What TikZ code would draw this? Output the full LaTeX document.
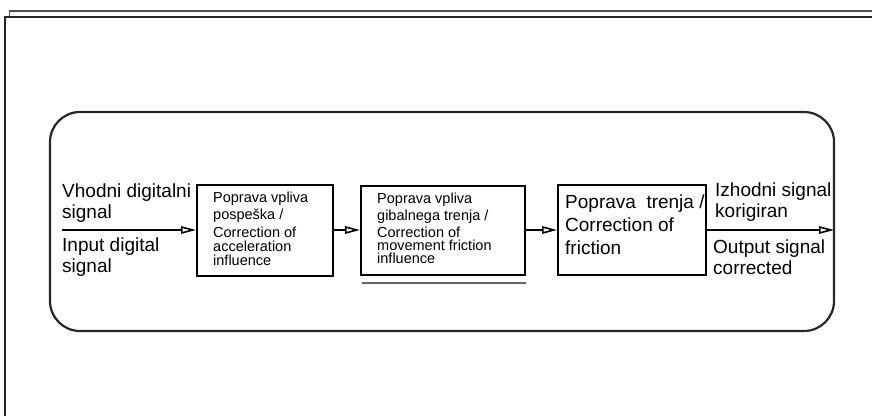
\documentclass[tikz,border=0pt]{standalone}
\usepackage{fontspec}
\setmainfont{Liberation Sans}
\usetikzlibrary{arrows.meta}
\begin{document}
\begin{tikzpicture}[x=1pt,y=-1pt,
  frameline/.style={line width=2.2pt, draw=black!85},
  backline/.style={line width=1.6pt, draw=black!70},
  blk/.style={draw, line width=2pt, rectangle, inner sep=0pt},
  panelbox/.style={draw, line width=2.2pt, rectangle, rounded corners=30pt, inner sep=0pt, draw=black!85},
  small/.style={inner sep=0pt, anchor=west, align=left, font=\fontsize{14.5}{17}\selectfont},
  big/.style={inner sep=0pt, anchor=west, align=left, font=\fontsize{19}{21}\selectfont},
  bigbox/.style={inner sep=0pt, anchor=west, align=left, font=\fontsize{19}{23}\selectfont},
  sig/.style={line width=2pt, -{Triangle[open, length=15pt, width=7.5pt, line width=1.6pt]}},
  underl/.style={line width=2pt, draw=black!60},
]
\useasboundingbox (0,0) rectangle (872,416);
% page frames
\draw[backline] (9.5,17) -- (9.5,11) -- (872,11);
\draw[frameline] (5,416) -- (5,17) -- (872,17);
% rounded panel
\node[panelbox, minimum width=784pt, minimum height=219pt] (panel) at (442,221.5) {};
% blocks
\node[blk, minimum width=136pt, minimum height=91pt] (b1) at (265,230) {};
\node[blk, minimum width=164pt, minimum height=89pt] (b2) at (443,230) {};
\node[blk, minimum width=148pt, minimum height=90pt] (b3) at (632,230) {};
% block texts
\node[small] (t1) at (213,229) {Poprava vpliva\\pospeška /\\[1pt]Correction of\\[-3pt]acceleration\\[-3pt]influence};
\node[small] (t2) at (377,228) {Poprava vpliva\\gibalnega trenja /\\Correction of\\[-4pt]movement friction\\[-4pt]influence};
\node[bigbox] (t3) at (565,225) {Poprava\ \ trenja /\\Correction of\\friction};
% signal labels
\node[big] (vin) at (62,203) {Vhodni digitalni\\signal};
\node[big] (iin) at (62,257) {Input digital\\signal};
\node[big] (izh) at (715,202) {Izhodni signal\\korigiran};
\node[big] (outl) at (713,257) {Output signal\\corrected};
% connectors
\coordinate (in) at (62,230);
\coordinate (out) at (834,230);
\draw[sig] (in) -- (b1.west);
\draw[sig] (b1.east) -- (b2.west);
\draw[sig] (b2.east) -- (b3.west);
\draw[sig] (b3.east) -- (out);
% underline below block 2
\draw[underl] ([xshift=2pt,yshift=-7.5pt]b2.south west) -- ([yshift=-7.5pt]b2.south east);
\end{tikzpicture}
\end{document}
